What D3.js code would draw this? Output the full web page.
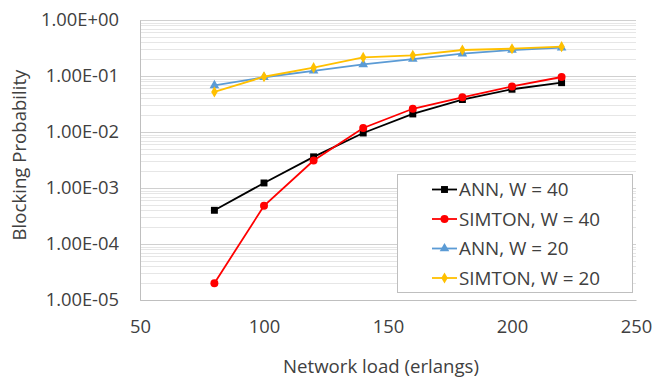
<!DOCTYPE html>
<html>
<head>
<meta charset="utf-8">
<script src="https://cdn.jsdelivr.net/npm/d3@7"></script>
<style>
  html, body { margin: 0; padding: 0; background: #fff; }
  text { font-family: "Open Sans", sans-serif; fill: #404040; }
</style>
</head>
<body>
<svg id="chart" width="654" height="377"></svg>
<script>
// Data
var loads = [80, 100, 120, 140, 160, 180, 200, 220];
var annW40 = [0.0004, 0.00123, 0.0036, 0.0096, 0.021, 0.038, 0.058, 0.076];
var simtonW40 = [0.00002, 0.00048, 0.0031, 0.0118, 0.026, 0.0416, 0.065, 0.096];
var annW20 = [0.068, 0.095, 0.124, 0.161, 0.201, 0.25, 0.291, 0.32];
var simtonW20 = [0.052, 0.097, 0.141, 0.215, 0.234, 0.291, 0.307, 0.334];
var seriesNames = ['ANN, W = 40', 'SIMTON, W = 40', 'ANN, W = 20', 'SIMTON, W = 20'];
var xTicks = [50, 100, 150, 200, 250];
var yTicks = [1e-5, 1e-4, 1e-3, 1e-2, 1e-1, 1];

var margin = {top: 20, right: 18, bottom: 77, left: 140},
	width = 654 - margin.left - margin.right,
	height = 377 - margin.top - margin.bottom;

var series = [
	{name: seriesNames[0], values: annW40, color: '#000000', symbol: d3.symbolSquare, size: 48},
	{name: seriesNames[1], values: simtonW40, color: '#ff0000', symbol: d3.symbolCircle, size: 50},
	{name: seriesNames[2], values: annW20, color: '#5b9bd5', symbol: d3.symbolTriangle, size: 40},
	{name: seriesNames[3], values: simtonW20, color: '#ffc000', symbol: d3.symbolDiamond, size: 36}
];

var x = d3.scaleLinear().domain([50, 250]).range([0, width]);
var y = d3.scaleLog().domain([1e-5, 1]).range([height, 0]);

var svg = d3.select('#chart');
var g = svg.append('g')
	.attr('transform', 'translate(' + margin.left + ',' + margin.top + ')');

// font size that makes a text as wide as in the reference
function fitSize(str, target) {
	var t = svg.append('text').style('font-size', '20px').text(str);
	var w = t.node().getComputedTextLength();
	t.remove();
	return 20 * target / w;
}
var tickSize = fitSize('1.00E+00', 78);
var titleSize = fitSize('Network load (erlangs)', 196);
var legendSize = fitSize('SIMTON, W = 40', 141);

// minor gridlines (2..9 in every decade)
var minor = [];
yTicks.slice(0, -1).forEach(function (d) {
	for (var k = 2; k <= 9; k++) minor.push(d * k);
});
g.selectAll('line.minor').data(minor).enter().append('line')
	.attr('class', 'minor')
	.attr('x1', 0).attr('x2', width)
	.attr('y1', function (d) { return Math.round(y(d)) + 0.5; })
	.attr('y2', function (d) { return Math.round(y(d)) + 0.5; })
	.attr('stroke', '#e6e6e6').attr('stroke-width', 1);

// major gridlines
g.selectAll('line.major').data(yTicks).enter().append('line')
	.attr('class', 'major')
	.attr('x1', 0).attr('x2', width)
	.attr('y1', function (d) { return Math.round(y(d)) + 0.5; })
	.attr('y2', function (d) { return Math.round(y(d)) + 0.5; })
	.attr('stroke', '#d0d0d0').attr('stroke-width', 1);

// axes
var yAxis = d3.axisLeft(y).tickValues(yTicks).tickSize(0).tickPadding(21)
	.tickFormat(function (d) {
		var e = Math.round(Math.log10(d));
		return '1.00E' + (e < 0 ? '-' : '+') + d3.format('02d')(Math.abs(e));
	});
var xAxis = d3.axisBottom(x).tickValues(xTicks).tickSize(0)
	.tickPadding(27 - 0.36 * tickSize);

var ya = g.append('g').call(yAxis);
ya.select('.domain').attr('stroke', '#bfbfbf');
ya.selectAll('text').style('font-size', tickSize + 'px').attr('fill', '#404040');

var xa = g.append('g').attr('transform', 'translate(0,' + height + ')').call(xAxis);
xa.select('.domain').attr('stroke', '#bfbfbf');
xa.selectAll('text').style('font-size', tickSize + 'px').attr('fill', '#404040');

// series
var line = d3.line()
	.x(function (d, i) { return x(loads[i]); })
	.y(function (d) { return y(d); });

series.forEach(function (s) {
	var sg = g.append('g');
	sg.append('path')
		.datum(s.values)
		.attr('d', line)
		.attr('fill', 'none')
		.attr('stroke', s.color)
		.attr('stroke-width', 1.8);
	sg.selectAll('path.pt').data(s.values).enter().append('path')
		.attr('class', 'pt')
		.attr('d', d3.symbol().type(s.symbol).size(s.size))
		.attr('transform', function (d, i) {
			return 'translate(' + x(loads[i]) + ',' + y(d) + ')';
		})
		.attr('fill', s.color);
});

// legend
var lx = 397 - margin.left, ly = 174 - margin.top, lw = 235, lh = 118;
var legend = g.append('g').attr('transform', 'translate(' + lx + ',' + ly + ')');
legend.append('rect')
	.attr('x', 0.5).attr('y', 0.5)
	.attr('width', lw).attr('height', lh)
	.attr('fill', '#fff').attr('stroke', '#bfbfbf');

var item = legend.selectAll('g.item').data(series).enter().append('g')
	.attr('class', 'item')
	.attr('transform', function (d, i) { return 'translate(0,' + (15.5 + i * 29.5) + ')'; });
item.append('line')
	.attr('x1', 35).attr('x2', 60)
	.attr('stroke', function (d) { return d.color; })
	.attr('stroke-width', 1.8);
item.append('path')
	.attr('d', function (d) { return d3.symbol().type(d.symbol).size(d.size)(); })
	.attr('transform', 'translate(47.5,0)')
	.attr('fill', function (d) { return d.color; });
item.append('text')
	.attr('x', 62).attr('dy', '0.35em')
	.style('font-size', legendSize + 'px')
	.text(function (d) { return d.name; });

// axis titles
svg.append('text')
	.attr('x', 381).attr('y', 366).attr('dy', '0.35em')
	.attr('text-anchor', 'middle')
	.style('font-size', titleSize + 'px')
	.text('Network load (erlangs)');

svg.append('text')
	.attr('transform', 'translate(19,155) rotate(-90)')
	.attr('dy', '0.35em')
	.attr('text-anchor', 'middle')
	.style('font-size', titleSize + 'px')
	.text('Blocking Probability');
</script>
</body>
</html>
